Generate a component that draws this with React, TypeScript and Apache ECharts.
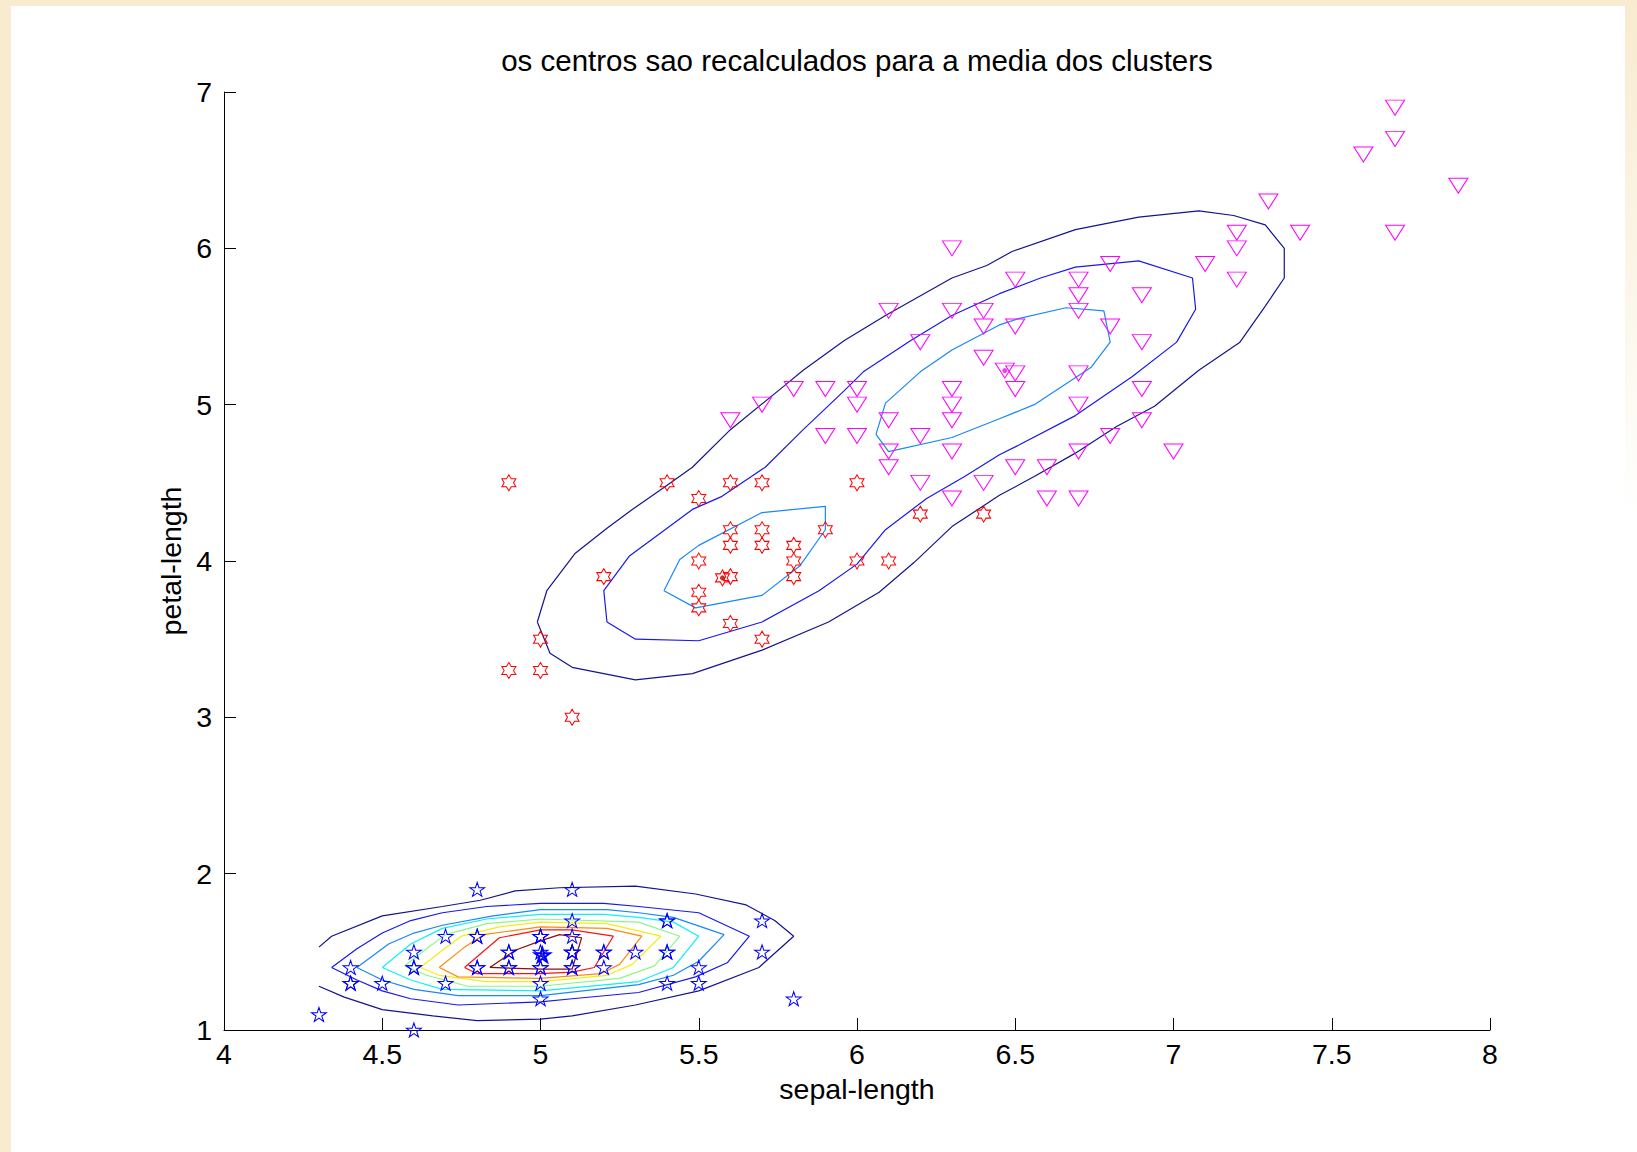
import React, { useEffect, useRef } from "react";
import * as echarts from "echarts";

const TITLE = "os centros sao recalculados para a media dos clusters";
const X_NAME = "sepal-length";
const Y_NAME = "petal-length";
const X_MIN = 4;
const X_MAX = 8;
const X_STEP = 0.5;
const Y_MIN = 1;
const Y_MAX = 7;
const Y_STEP = 1;

// cluster 1 (blue pentagrams)
const cluster1: number[][] = [
  [5.1, 1.4], [4.9, 1.4], [4.7, 1.3], [4.6, 1.5], [5.0, 1.4], [5.4, 1.7], [4.6, 1.4], [5.0, 1.5],
  [4.4, 1.4], [4.9, 1.5], [5.4, 1.5], [4.8, 1.6], [4.8, 1.4], [4.3, 1.1], [5.8, 1.2], [5.7, 1.5],
  [5.4, 1.3], [5.1, 1.4], [5.7, 1.7], [5.1, 1.5], [5.4, 1.7], [5.1, 1.5], [4.6, 1.0], [5.1, 1.7],
  [4.8, 1.9], [5.0, 1.6], [5.0, 1.6], [5.2, 1.5], [5.2, 1.4], [4.7, 1.6], [4.8, 1.6], [5.4, 1.5],
  [5.2, 1.5], [5.5, 1.4], [4.9, 1.5], [5.0, 1.2], [5.5, 1.3], [4.9, 1.4], [4.4, 1.3], [5.1, 1.5],
  [5.0, 1.3], [4.5, 1.3], [4.4, 1.3], [5.0, 1.6], [5.1, 1.9], [4.8, 1.4], [5.1, 1.6], [4.6, 1.4],
  [5.3, 1.5], [5.0, 1.4],
];

// cluster 2 (red hexagrams)
const cluster2: number[][] = [
  [4.9, 4.5], [5.4, 4.5], [5.6, 4.5], [5.7, 4.5], [6.0, 4.5], [5.5, 4.4], [6.2, 4.3], [6.4, 4.3],
  [5.6, 4.2], [5.7, 4.2], [5.9, 4.2], [5.6, 4.1], [5.7, 4.1], [5.8, 4.1], [5.5, 4.0], [5.8, 4.0],
  [6.0, 4.0], [6.1, 4.0], [5.2, 3.9], [5.6, 3.9], [5.8, 3.9], [5.5, 3.8], [5.5, 3.7], [5.6, 3.6],
  [5.0, 3.5], [5.7, 3.5], [4.9, 3.3], [5.0, 3.3], [5.1, 3.0],
];

// cluster 3 (magenta triangles)
const cluster3: number[][] = [
  [7.7, 6.9], [7.7, 6.7], [7.6, 6.6], [7.9, 6.4], [7.3, 6.3], [7.2, 6.1], [7.4, 6.1], [7.7, 6.1],
  [6.3, 6.0], [7.2, 6.0], [6.8, 5.9], [7.1, 5.9], [6.5, 5.8], [6.7, 5.8], [7.2, 5.8], [6.7, 5.7],
  [6.9, 5.7], [6.1, 5.6], [6.3, 5.6], [6.4, 5.6], [6.7, 5.6], [6.4, 5.5], [6.5, 5.5], [6.8, 5.5],
  [6.2, 5.4], [6.9, 5.4], [6.4, 5.3], [6.5, 5.2], [6.7, 5.2], [5.8, 5.1], [5.9, 5.1], [6.0, 5.1],
  [6.3, 5.1], [6.5, 5.1], [6.9, 5.1], [5.7, 5.0], [6.0, 5.0], [6.3, 5.0], [6.7, 5.0], [5.6, 4.9],
  [6.1, 4.9], [6.3, 4.9], [6.9, 4.9], [5.9, 4.8], [6.0, 4.8], [6.2, 4.8], [6.8, 4.8], [6.1, 4.7],
  [6.3, 4.7], [6.7, 4.7], [7.0, 4.7], [6.1, 4.6], [6.5, 4.6], [6.6, 4.6], [6.2, 4.5], [6.4, 4.5],
  [6.3, 4.4], [6.6, 4.4], [6.7, 4.4],
];

// recalculated centres
const centroid1: number[][] = [[5.006, 1.48]];
const centroid2: number[][] = [[5.575, 3.892]];
const centroid3: number[][] = [[6.467, 5.218]];

// density contours, lower group (outer -> inner)
const lowerL1: number[][] = [
  [4.30, 1.53], [4.34, 1.60], [4.50, 1.73], [4.69, 1.79], [4.81, 1.83], [4.92, 1.89], [5.06, 1.91],
  [5.30, 1.92], [5.49, 1.87], [5.65, 1.80], [5.74, 1.70], [5.80, 1.60], [5.69, 1.40], [5.50, 1.25],
  [5.30, 1.16], [5.10, 1.09], [5.00, 1.07], [4.80, 1.06], [4.66, 1.09], [4.50, 1.13], [4.38, 1.21],
  [4.30, 1.28],
];
const lowerL2: number[][] = [
  [4.34, 1.40], [4.42, 1.52], [4.50, 1.62], [4.59, 1.70], [4.69, 1.75], [4.83, 1.79], [5.00, 1.81],
  [5.20, 1.81], [5.31, 1.79], [5.50, 1.75], [5.66, 1.60], [5.59, 1.43], [5.49, 1.34], [5.31, 1.24],
  [5.10, 1.20], [5.00, 1.18], [4.74, 1.16], [4.59, 1.20], [4.50, 1.25], [4.42, 1.32], [4.34, 1.40],
];
const lowerL3: number[][] = [
  [4.42, 1.40], [4.52, 1.55], [4.60, 1.62], [4.69, 1.67], [4.85, 1.73], [5.00, 1.77], [5.21, 1.77],
  [5.31, 1.75], [5.42, 1.72], [5.58, 1.61], [5.50, 1.44], [5.42, 1.35], [5.31, 1.29], [5.00, 1.22],
  [4.74, 1.22], [4.60, 1.26], [4.50, 1.32], [4.42, 1.40],
];
const lowerL4: number[][] = [
  [4.50, 1.40], [4.59, 1.55], [4.69, 1.65], [4.83, 1.71], [5.00, 1.74], [5.20, 1.74], [5.31, 1.72],
  [5.42, 1.69], [5.50, 1.60], [5.42, 1.40], [5.31, 1.31], [5.00, 1.25], [4.69, 1.26], [4.59, 1.32],
  [4.50, 1.40],
];
const lowerL5: number[][] = [
  [4.57, 1.41], [4.64, 1.52], [4.70, 1.61], [4.83, 1.68], [5.00, 1.71], [5.31, 1.69], [5.44, 1.60],
  [5.36, 1.41], [5.25, 1.33], [5.00, 1.28], [4.77, 1.28], [4.64, 1.35], [4.57, 1.41],
];
const lowerL6: number[][] = [
  [4.62, 1.40], [4.69, 1.51], [4.75, 1.60], [4.87, 1.66], [5.00, 1.69], [5.21, 1.68], [5.38, 1.60],
  [5.29, 1.42], [5.21, 1.35], [5.00, 1.31], [4.83, 1.31], [4.68, 1.35], [4.62, 1.40],
];
const lowerL7: number[][] = [
  [4.68, 1.40], [4.76, 1.53], [4.82, 1.61], [5.00, 1.66], [5.21, 1.65], [5.32, 1.60], [5.25, 1.42],
  [5.19, 1.36], [5.00, 1.33], [4.74, 1.34], [4.68, 1.40],
];
const lowerL8: number[][] = [
  [4.76, 1.40], [4.87, 1.59], [5.00, 1.64], [5.10, 1.64], [5.23, 1.60], [5.17, 1.40], [5.10, 1.37],
  [5.00, 1.36], [4.80, 1.36], [4.76, 1.40],
];
const lowerL9: number[][] = [
  [4.84, 1.40], [4.92, 1.51], [5.00, 1.57], [5.06, 1.61], [5.13, 1.59], [5.10, 1.39], [5.00, 1.39],
  [4.84, 1.40],
];

// density contours, upper group
const upperL1: number[][] = [
  [4.99, 3.61], [5.02, 3.81], [5.11, 4.05], [5.21, 4.21], [5.29, 4.33], [5.39, 4.47], [5.48, 4.60],
  [5.60, 4.84], [5.77, 5.12], [5.83, 5.22], [5.96, 5.41], [6.09, 5.57], [6.30, 5.81], [6.41, 5.89],
  [6.49, 5.98], [6.69, 6.12], [6.89, 6.20], [7.08, 6.24], [7.19, 6.21], [7.29, 6.15], [7.35, 6.00],
  [7.35, 5.81], [7.29, 5.63], [7.21, 5.40], [7.08, 5.22], [6.94, 4.99], [6.82, 4.86], [6.69, 4.69],
  [6.56, 4.54], [6.45, 4.42], [6.30, 4.22], [6.18, 3.99], [6.07, 3.80], [5.91, 3.61], [5.70, 3.43],
  [5.48, 3.28], [5.30, 3.24], [5.10, 3.32], [5.03, 3.41], [4.99, 3.61],
];
const upperL2: number[][] = [
  [5.21, 3.61], [5.20, 3.81], [5.28, 4.03], [5.48, 4.33], [5.57, 4.41], [5.71, 4.60], [5.83, 4.84],
  [5.96, 5.09], [6.02, 5.21], [6.17, 5.41], [6.30, 5.57], [6.45, 5.71], [6.58, 5.81], [6.69, 5.88],
  [6.89, 5.92], [7.06, 5.81], [7.07, 5.61], [7.01, 5.40], [6.87, 5.18], [6.69, 4.93], [6.51, 4.74],
  [6.45, 4.68], [6.34, 4.54], [6.22, 4.40], [6.09, 4.20], [6.00, 3.98], [5.88, 3.81], [5.70, 3.61],
  [5.50, 3.49], [5.30, 3.50], [5.21, 3.61],
];
const upperL3a: number[][] = [
  [5.39, 3.81], [5.44, 4.01], [5.50, 4.10], [5.70, 4.31], [5.90, 4.35], [5.90, 4.20], [5.82, 3.97],
  [5.70, 3.78], [5.49, 3.70], [5.39, 3.81],
];
const upperL3b: number[][] = [
  [6.06, 4.81], [6.09, 5.01], [6.20, 5.21], [6.30, 5.35], [6.45, 5.51], [6.51, 5.55], [6.66, 5.62],
  [6.78, 5.60], [6.80, 5.40], [6.74, 5.24], [6.68, 5.16], [6.56, 5.00], [6.45, 4.91], [6.30, 4.79],
  [6.10, 4.70], [6.06, 4.81],
];

const LEVEL_COLORS = [
  "#14148c", "#1818f0", "#1888f8", "#10eef8", "#88f888", "#f4ee10", "#ff8810", "#ff1010", "#900c0c",
];

const FONT = "'Liberation Sans', Arial, Helvetica, sans-serif";

function starPath(points: number, inner: number): string {
  const parts: string[] = [];
  for (let i = 0; i < points * 2; i++) {
    const r = i % 2 === 0 ? 1 : inner;
    const a = -Math.PI / 2 + (i * Math.PI) / points;
    parts.push(
      (i === 0 ? "M" : "L") + (r * Math.cos(a)).toFixed(4) + "," + (r * Math.sin(a)).toFixed(4)
    );
  }
  return "path://" + parts.join("") + "Z";
}

const PENTAGRAM = starPath(5, 0.382);
const HEXAGRAM = starPath(6, 0.577);
const TRIANGLE_DOWN = "path://M-1,-0.866L1,-0.866L0,0.866Z";

function contour(data: number[][], color: string) {
  return {
    type: "line",
    data,
    symbol: "none",
    showSymbol: false,
    silent: true,
    z: 3,
    lineStyle: { color, width: 1.2 },
  };
}

function hollow(data: number[][], symbol: string, size: number[], color: string, width = 1) {
  return {
    type: "scatter",
    data,
    symbol,
    symbolSize: size,
    silent: true,
    z: 4,
    itemStyle: { color: "rgba(0,0,0,0)", borderColor: color, borderWidth: width, opacity: 1 },
  };
}

function dot(data: number[][], color: string) {
  return {
    type: "scatter",
    data,
    symbol: "circle",
    symbolSize: 5,
    silent: true,
    z: 5,
    itemStyle: { color },
  };
}

export default function App() {
  const ref = useRef<HTMLDivElement>(null);

  useEffect(() => {
    if (!ref.current) return;
    const chart = echarts.init(ref.current, undefined, { renderer: "svg" });
    const axisLine = { show: true, lineStyle: { color: "#000", width: 1 } };
    chart.setOption({
      animation: false,
      backgroundColor: "transparent",
      grid: { left: 224, top: 92, width: 1266, height: 938, containLabel: false },
      graphic: [
        {
          type: "text",
          x: 857,
          y: 60,
          silent: true,
          style: {
            text: TITLE,
            fill: "#000",
            font: "29.5px " + FONT,
            textAlign: "center",
            textVerticalAlign: "middle",
          },
        },
      ],
      xAxis: {
        type: "value",
        min: X_MIN,
        max: X_MAX,
        interval: X_STEP,
        name: X_NAME,
        nameLocation: "middle",
        nameGap: 44,
        nameTextStyle: { color: "#000", fontSize: 28.5, fontFamily: FONT },
        axisLine,
        axisTick: { show: true, inside: true, length: 12, lineStyle: { color: "#000" } },
        axisLabel: { color: "#000", fontSize: 28.5, fontFamily: FONT, margin: 9 },
        splitLine: { show: false },
      },
      yAxis: {
        type: "value",
        min: Y_MIN,
        max: Y_MAX,
        interval: Y_STEP,
        name: Y_NAME,
        nameLocation: "middle",
        nameGap: 31,
        nameTextStyle: { color: "#000", fontSize: 28.5, fontFamily: FONT },
        axisLine,
        axisTick: { show: true, inside: true, length: 12, lineStyle: { color: "#000" } },
        axisLabel: { color: "#000", fontSize: 28.5, fontFamily: FONT, margin: 12 },
        splitLine: { show: false },
      },
      series: [
        hollow(cluster1, PENTAGRAM, [15, 14], "#0000ff"),
        hollow(cluster2, HEXAGRAM, [14, 16], "#ff0000"),
        hollow(cluster3, TRIANGLE_DOWN, [19, 15], "#ff00ff"),
        contour(lowerL1, LEVEL_COLORS[0]),
        contour(lowerL2, LEVEL_COLORS[1]),
        contour(lowerL3, LEVEL_COLORS[2]),
        contour(lowerL4, LEVEL_COLORS[3]),
        contour(lowerL5, LEVEL_COLORS[4]),
        contour(lowerL6, LEVEL_COLORS[5]),
        contour(lowerL7, LEVEL_COLORS[6]),
        contour(lowerL8, LEVEL_COLORS[7]),
        contour(lowerL9, LEVEL_COLORS[8]),
        contour(upperL1, LEVEL_COLORS[0]),
        contour(upperL2, LEVEL_COLORS[1]),
        contour(upperL3a, LEVEL_COLORS[2]),
        contour(upperL3b, LEVEL_COLORS[2]),
        hollow(centroid1, PENTAGRAM, [15, 14], "#0000ff", 2),
        hollow(centroid2, HEXAGRAM, [14, 16], "#ff0000", 1),
        hollow(centroid3, TRIANGLE_DOWN, [19, 15], "#ff00ff", 1),
        dot(centroid1, "#0000c0"),
        dot(centroid2, "#b00000"),
        dot(centroid3, "#ff00ff"),
      ],
    });
    return () => chart.dispose();
  }, []);

  return (
    <div
      style={{
        position: "absolute",
        left: 0,
        top: 0,
        width: 1637,
        height: 1152,
        background: "#f8ebcf",
        overflow: "hidden",
      }}
    >
      <div
        style={{
          position: "absolute",
          left: 11,
          top: 6,
          width: 1626,
          height: 1146,
          background: "#ffffff",
        }}
      />
      <div
        style={{
          position: "absolute",
          right: 0,
          top: 0,
          width: 12,
          height: 520,
          background: "linear-gradient(#f8ebcf, rgba(248,235,207,0))",
        }}
      />
      <div ref={ref} style={{ position: "absolute", left: 0, top: 0, width: 1637, height: 1152 }} />
    </div>
  );
}
